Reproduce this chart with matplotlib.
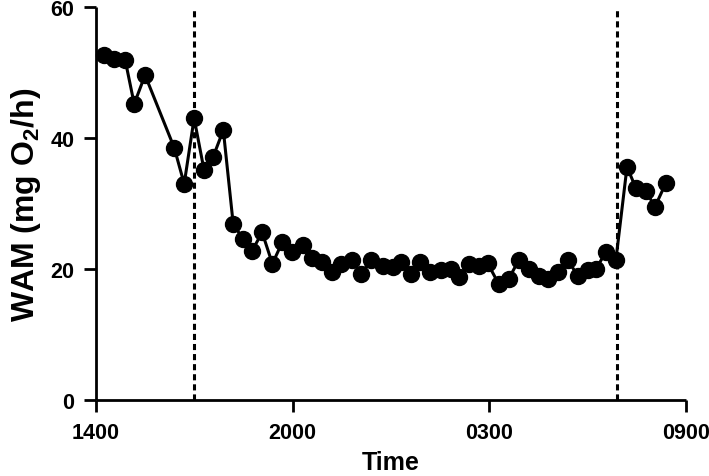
import matplotlib
matplotlib.use("Agg")
import matplotlib.pyplot as plt

# hours since 14:00
hours = [0.26, 0.58, 0.94, 1.23, 1.58, 2.52, 2.84, 3.16, 3.48, 3.77, 4.10, 4.42,
         4.74, 5.03, 5.35, 5.68, 6.00, 6.32, 6.65, 6.97, 7.29, 7.61, 7.90, 8.26,
         8.52, 8.87, 9.23, 9.55, 9.81, 10.13, 10.45, 10.77, 11.10, 11.42, 11.68,
         12.00, 12.32, 12.61, 12.97, 13.29, 13.61, 13.94, 14.26, 14.55, 14.87,
         15.19, 15.52, 15.84, 16.10, 16.42, 16.74, 17.10, 17.39, 17.71, 18.00, 18.35]
wam = [52.6, 52.1, 51.9, 45.2, 49.6, 38.5, 33.0, 43.0, 35.1, 37.1, 41.2, 26.8,
       24.6, 22.8, 25.6, 20.8, 24.1, 22.6, 23.6, 21.7, 21.1, 19.5, 20.8, 21.3,
       19.3, 21.3, 20.5, 20.3, 21.0, 19.3, 21.0, 19.5, 19.8, 20.0, 18.8,
       20.8, 20.5, 20.9, 17.7, 18.5, 21.3, 20.0, 19.0, 18.5, 19.5,
       21.3, 19.0, 19.8, 20.0, 22.6, 21.3, 35.6, 32.3, 31.9, 29.5, 33.1]
vlines = [3.16, 16.77]
xtick_pos = [0, 19 / 3, 38 / 3, 19]
xtick_labels = ["1400", "2000", "0300", "0900"]
yticks = [0, 20, 40, 60]

plt.rcParams['font.family'] = ['Liberation Sans', 'DejaVu Sans']
plt.rcParams['font.weight'] = 'bold'

fig = plt.figure(figsize=(7.09, 4.77), dpi=100)
ax = fig.add_axes([96 / 709, 1 - 401 / 477, 590 / 709, 393 / 477])

ax.plot(hours, wam, color='black', lw=2.2, marker='o', markersize=11.5,
        markerfacecolor='black', markeredgecolor='black', clip_on=False, zorder=3)
for v in vlines:
    ax.axvline(v, color='black', lw=2.2, linestyle=(0, (2.0, 1.3)), zorder=2)

ax.set_xlim(0, 19)
ax.set_ylim(0, 60)
ax.set_xticks(xtick_pos)
ax.set_xticklabels(xtick_labels)
ax.set_yticks(yticks)

for s in ['top', 'right']:
    ax.spines[s].set_visible(False)
for s in ['left', 'bottom']:
    ax.spines[s].set_linewidth(2.0)
    ax.spines[s].set_capstyle('butt')
ax.tick_params(axis='both', direction='out', length=8.6, width=2.0, labelsize=15.5,
               pad=7)
for lab in ax.get_xticklabels() + ax.get_yticklabels():
    lab.set_fontweight('bold')

ax.set_xlabel("Time", fontsize=18, fontweight='bold', labelpad=5)
ax.set_ylabel(r"WAM (mg O$_\mathregular{2}$/h)", fontsize=23, fontweight='bold',
              labelpad=5)

fig.savefig("out.png", dpi=100)
